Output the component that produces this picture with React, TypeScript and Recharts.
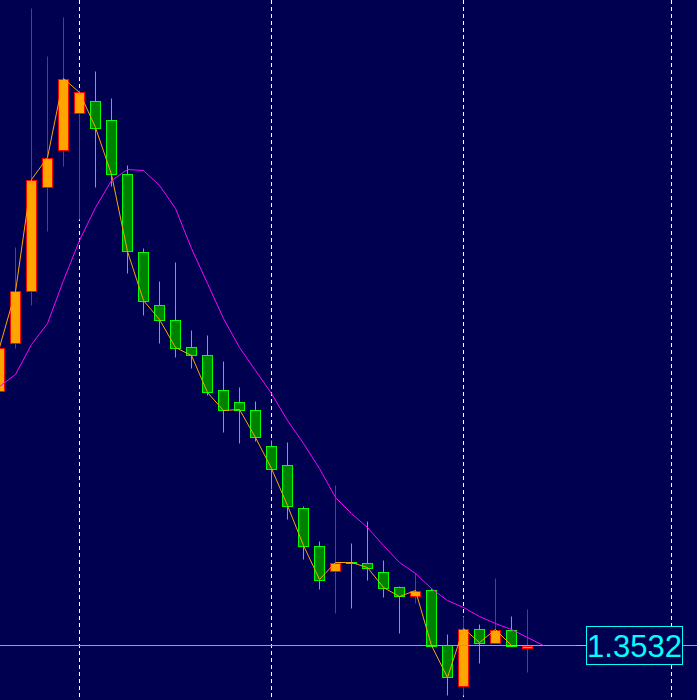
import React from 'react';
import { ComposedChart, Bar, Line, XAxis, YAxis, ReferenceLine, CartesianGrid } from 'recharts';

// bar index -> OHLC
const opens = [1.3786, 1.3835, 1.3886, 1.3991, 1.4028, 1.4064, 1.4077, 1.4058, 1.4003, 1.3925, 1.3873, 1.3858, 1.3831, 1.3822, 1.3787, 1.3776, 1.3768, 1.3732, 1.3713, 1.3670, 1.3632, 1.3607, 1.3616, 1.3615, 1.3605, 1.3591, 1.3581, 1.3588, 1.3533, 1.3492, 1.3549, 1.3535, 1.3548, 1.3530];
const highs = [1.3834, 1.3930, 1.4169, 1.4121, 1.4160, 1.4087, 1.4106, 1.4079, 1.4012, 1.3929, 1.3896, 1.3915, 1.3847, 1.3842, 1.3816, 1.3790, 1.3776, 1.3737, 1.3735, 1.3671, 1.3636, 1.3692, 1.3634, 1.3656, 1.3617, 1.3591, 1.3604, 1.3589, 1.3543, 1.3561, 1.3553, 1.3599, 1.3561, 1.3568];
const lows = [1.3782, 1.3829, 1.3872, 1.3946, 1.4011, 1.3958, 1.3990, 1.3991, 1.3904, 1.3862, 1.3834, 1.3820, 1.3809, 1.3782, 1.3745, 1.3734, 1.3736, 1.3688, 1.3658, 1.3618, 1.3588, 1.3564, 1.3569, 1.3597, 1.3580, 1.3544, 1.3574, 1.3532, 1.3482, 1.3482, 1.3514, 1.3534, 1.3532, 1.3505];
const closes = [1.3830, 1.3886, 1.3998, 1.4020, 1.4099, 1.4085, 1.4050, 1.4003, 1.3926, 1.3877, 1.3858, 1.3830, 1.3822, 1.3785, 1.3767, 1.3768, 1.3740, 1.3709, 1.3672, 1.3632, 1.3598, 1.3615, 1.3615, 1.3610, 1.3590, 1.3581, 1.3587, 1.3532, 1.3500, 1.3549, 1.3535, 1.3548, 1.3532, 1.3532];
// moving average, runs one bar past the last candle
const maValues = [1.3791, 1.3803, 1.3833, 1.3854, 1.3897, 1.3937, 1.3970, 1.3997, 1.4008, 1.4007, 1.3992, 1.3969, 1.3929, 1.3894, 1.3859, 1.3830, 1.3807, 1.3784, 1.3757, 1.3734, 1.3709, 1.3680, 1.3664, 1.3650, 1.3632, 1.3615, 1.3604, 1.3589, 1.3577, 1.3570, 1.3561, 1.3554, 1.3548, 1.3540, 1.3532];
const gridBars = [5, 17, 29, 42];
const lastPrice = 1.3532;

const BG = '#000050';
const X_DOMAIN: [number, number] = [0.03125, 43.59375];

const data = maValues.map((ma, i) => ({
  i,
  open: opens[i],
  high: highs[i],
  low: lows[i],
  close: closes[i],
  range: highs[i] !== undefined ? [lows[i], highs[i]] : null,
  ma,
}));

const Candle = (props: any) => {
  const { x, y, width, height, payload } = props;
  if (!payload || payload.open === undefined) return null;
  const { open, close, high, low } = payload;
  const span = high - low || 1;
  const py = (v: number) => y + ((high - v) / span) * height;
  const cx = Math.floor(x + width / 2) + 0.5;
  const up = close >= open;
  const stroke = up ? '#ff0000' : '#00ff00';
  const fill = up ? '#ffa500' : '#008000';
  const top = Math.round(py(Math.max(open, close))) + 0.5;
  const bot = Math.round(py(Math.min(open, close))) + 0.5;
  return (
    <g>
      <line x1={cx} x2={cx} y1={y} y2={y + height} stroke={stroke} strokeWidth={1} />
      <rect x={cx - 5} y={top} width={10} height={Math.max(bot - top, 1)} fill={fill} stroke={stroke} strokeWidth={1} />
    </g>
  );
};

const PriceTag = (props: any) => {
  const vb = props.viewBox || {};
  const yy = vb.y;
  return (
    <g>
      <line x1={576} x2={586} y1={yy} y2={yy} stroke="#00ffff" strokeWidth={1} />
      <rect x={586.5} y={yy - 19} width={96} height={38} fill={BG} stroke="#00ffff" strokeWidth={1} />
      <text x={634.5} y={yy + 11.5} textAnchor="middle" fill="#00ffff" fontSize={31} fontFamily="'Liberation Sans', Arial, sans-serif">
        {lastPrice.toFixed(4)}
      </text>
    </g>
  );
};

// grid lines every 12 bars, placed with the axis scale
const gridX = (args: any) => {
  const sc = args?.xAxis?.scale;
  if (typeof sc === 'function') return gridBars.map((g) => Math.floor(sc(g)) + 0.5);
  const w = args?.width ?? 697;
  return gridBars.map((g) => Math.floor(((g - X_DOMAIN[0]) / (X_DOMAIN[1] - X_DOMAIN[0])) * w) + 0.5);
};

export default function App() {
  return (
    <div style={{ position: 'fixed', left: 0, top: 0, width: 697, height: 700, background: BG, overflow: 'hidden' }}>
      <ComposedChart width={697} height={700} data={data} margin={{ top: 0, right: 0, bottom: 0, left: 0 }}>
        <XAxis dataKey="i" type="number" hide domain={X_DOMAIN} allowDataOverflow />
        <YAxis type="number" hide domain={[1.34775, 1.41775]} allowDataOverflow />
        <CartesianGrid horizontal={false} stroke="#ffffff" strokeDasharray="4 3" verticalCoordinatesGenerator={gridX} />
        <ReferenceLine y={lastPrice} stroke="#a0a0a0" strokeWidth={1} label={<PriceTag />} />
        <Bar dataKey="range" barSize={10} shape={<Candle />} isAnimationActive={false} />
        <Line dataKey="close" type="linear" stroke="#ffa500" strokeWidth={1} dot={false} activeDot={false} isAnimationActive={false} />
        <Line dataKey="ma" type="linear" stroke="#ff00ff" strokeWidth={1} dot={false} activeDot={false} isAnimationActive={false} />
      </ComposedChart>
    </div>
  );
}
